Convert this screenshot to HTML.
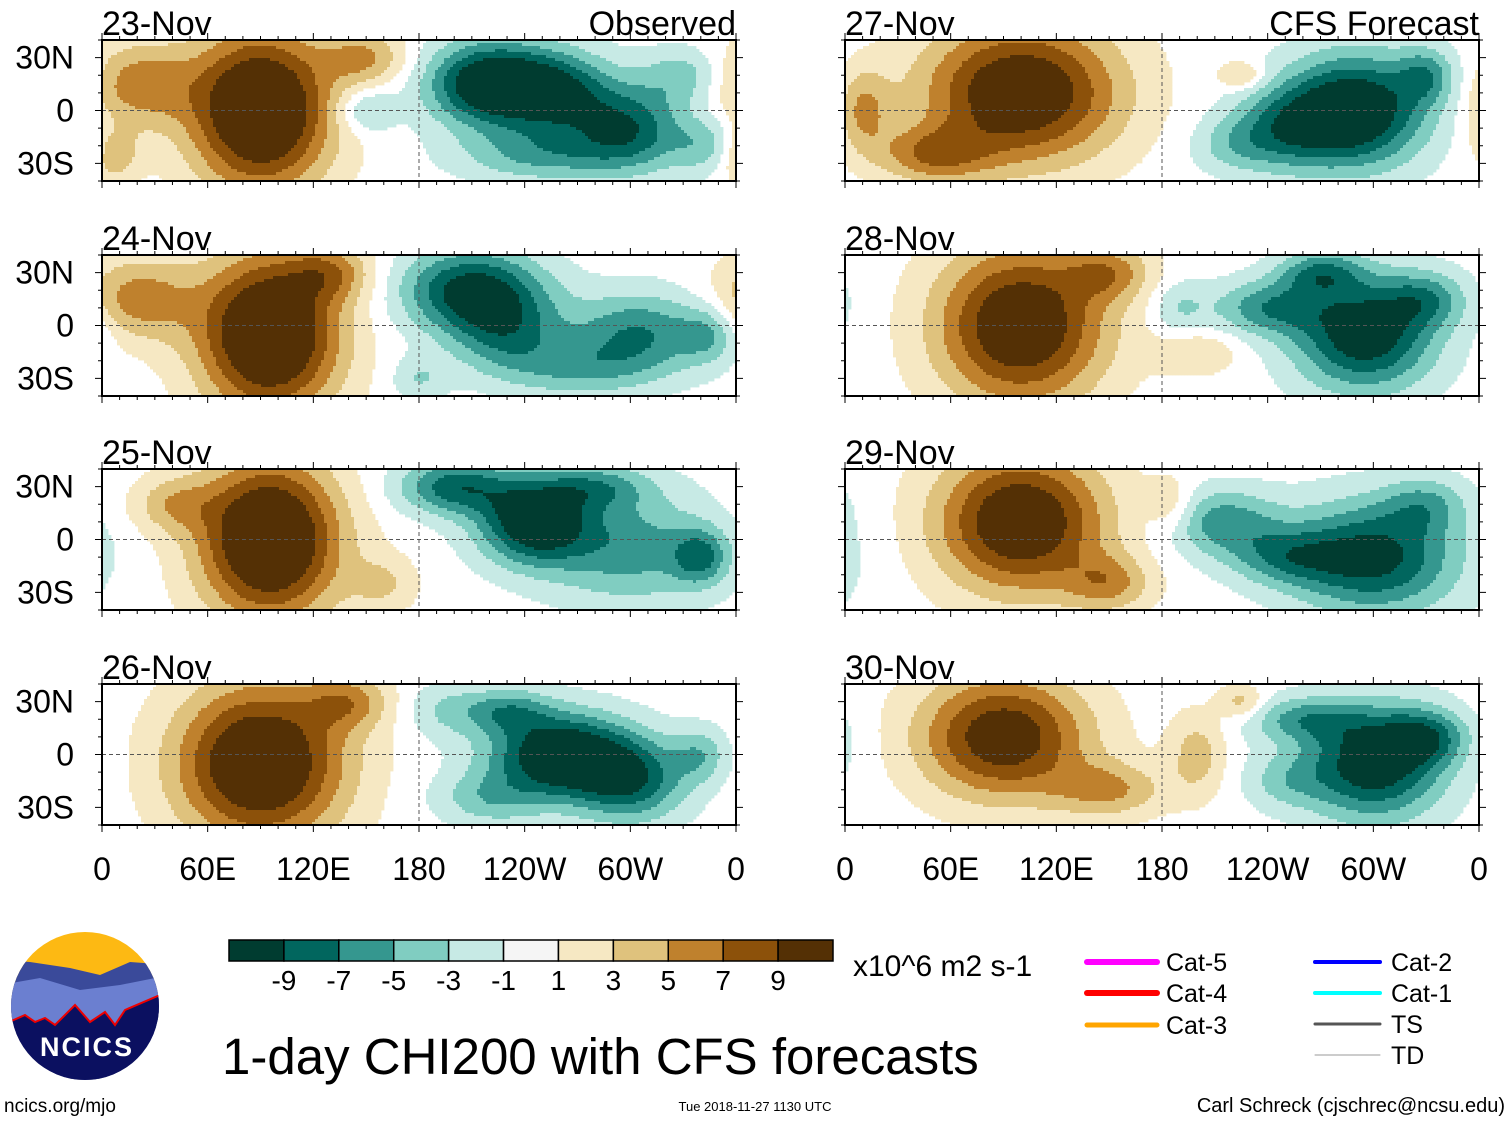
<!DOCTYPE html>
<html><head><meta charset="utf-8">
<style>
body{margin:0;background:#fff;width:1510px;height:1121px;overflow:hidden;font-family:"Liberation Sans",sans-serif;position:relative}
</style></head><body>
<svg id="svg" width="1510" height="1121" style="position:absolute;left:0;top:0"></svg>
<script>
const panelTitles=["23-Nov","24-Nov","25-Nov","26-Nov","27-Nov","28-Nov","29-Nov","30-Nov"];
const levels=[-9,-7,-5,-3,-1,1,3,5,7,9];
const colors=["#003c30","#01665e","#35978f","#80cdc1","#c7eae5","#f5f5f5","#f6e8c3","#dfc27d","#bf812d","#8c510a","#543005"];
const xTicks=[0,60,120,180,240,300,360];
const xTickLabels=["0","60E","120E","180","120W","60W","0"];
const yTicks=[30,0,-30];
const yTickLabels=["30N","0","30S"];
// blobs: [lon, lat, amplitude, sigmaLon, sigmaLat]
const blobs23=[[90,0,14,25,28],[20,15,6,20,15],[150,30,5,15,10],[5,-25,5,10,10],[220,15,-12,22,15],[260,10,-8,20,15],[300,-10,-8,20,15],[250,-25,-5,30,10],[150,0,-4,10,8],[330,20,-4,15,10],[345,-20,-4,12,10]];
const blobs24=[[95,-5,14,25,28],[20,15,6,20,15],[130,30,5,15,10],[210,20,-10,25,15],[230,-5,-6,20,15],[305,-5,-7,25,15],[180,-30,-3,10,8],[345,-5,-4,10,10],[270,-25,-4,25,10]];
const blobs25=[[95,0,14,25,28],[40,20,4,15,10],[200,30,-8,20,10],[245,10,-11,20,15],[300,-5,-6,30,20],[340,-10,-6,10,10],[160,-25,3,12,10],[280,30,-5,20,8]];
const blobs26=[[90,-5,13,30,28],[140,30,5,15,10],[260,0,-12,25,15],[300,-15,-8,20,15],[220,-25,-4,20,10],[340,0,-4,10,10],[195,25,-3,15,10],[230,25,-5,15,8]];
const blobs27=[[100,10,12,35,25],[50,-25,6,20,10],[10,0,5,10,15],[290,0,-12,25,20],[250,-10,-6,20,15],[330,20,-5,10,10],[225,20,4,8,5],[220,-20,-3,15,10]];
const blobs28=[[100,0,12,30,28],[150,30,5,15,10],[200,-15,3,15,8],[295,-5,-11,25,20],[240,10,-6,20,10],[330,15,-5,15,10],[270,30,-6,15,8],[190,10,-3,10,10]];
const blobs29=[[100,10,12,30,25],[150,-25,5,15,10],[300,-10,-10,30,20],[215,10,-6,20,12],[250,-10,-5,20,10],[185,20,3,8,10],[330,20,-4,15,10]];
const blobs30=[[90,10,11,30,22],[150,-20,5,20,10],[200,0,4,10,15],[300,-5,-11,25,20],[330,10,-6,15,10],[260,20,-5,20,8],[225,30,4,8,6],[250,-15,-3,15,10]];
const allBlobs=[blobs23,blobs24,blobs25,blobs26,blobs27,blobs28,blobs29,blobs30];

const NS="http://www.w3.org/2000/svg";
const svg=document.getElementById('svg');
function mk(tag,attrs,parent){const e=document.createElementNS(NS,tag);for(const k in attrs)e.setAttribute(k,attrs[k]);(parent||svg).appendChild(e);return e;}
const colX=[102,845], rowY=[40,255,469,684], PW=634, PH=141;
function xScale(px,lon){return px+lon/360*PW;}
function yScale(py,lat){return py+PH/2-lat/80*PH;}
function colorFor(v){let i=0;while(i<levels.length&&v>levels[i])i++;return colors[i];}
function field(b,lon,lat){let s=0;for(const q of b){let d=Math.abs(lon-q[0]);if(d>180)d=360-d;const e=lat-q[1];const sl=q[3]*1.12,sa=q[4]*1.12;s+=q[2]*Math.exp(-(d*d)/(2*sl*sl)-(e*e)/(2*sa*sa));}return s;}

for(let p=0;p<8;p++){
  const px=colX[Math.floor(p/4)], py=rowY[p%4];
  const g=mk('g',{});
  
  
  const step=3;
  for(let yy=0;yy<PH;yy+=step){
    for(let xx=0;xx<PW;xx+=step){
      const lon=xx/PW*360, lat=40-yy/PH*80;
      const c=colorFor(field(allBlobs[p],lon+step/PW*180,lat-step/PH*40));
      if(c==="#f5f5f5")continue;
      mk('rect',{x:px+xx,y:py+yy,width:Math.min(step+0.4,PW-xx),height:Math.min(step+0.4,PH-yy),fill:c},g);
    }
  }
  mk('line',{x1:px,x2:px+PW,y1:yScale(py,0),y2:yScale(py,0),stroke:'#555','stroke-dasharray':'4,3','stroke-width':1},g);
  mk('line',{x1:xScale(px,180),x2:xScale(px,180),y1:py,y2:py+PH,stroke:'#555','stroke-dasharray':'4,3','stroke-width':1},g);
  const fr=mk('rect',{x:px,y:py,width:PW,height:PH,fill:'none',stroke:'#000','stroke-width':2},g);
  
  
  for(let i=0;i<=36;i++){const x=xScale(px,i*10);const l=i%6==0?7:4;mk('line',{x1:x,x2:x,y1:py,y2:py-l,stroke:'#000'},g);mk('line',{x1:x,x2:x,y1:py+PH,y2:py+PH+l,stroke:'#000'},g);}
  for(let la=-40;la<=40;la+=10){const y=yScale(py,la);const l=la%30==0?7:4;mk('line',{x1:px,x2:px-l,y1:y,y2:y,stroke:'#000'},g);mk('line',{x1:px+PW,x2:px+PW+l,y1:y,y2:y,stroke:'#000'},g);}
  const tt=mk('text',{x:px,y:py-5,'font-size':34,'font-family':'Liberation Sans'},g);tt.textContent=panelTitles[p];
  
  if(p%4==0){const r=mk('text',{x:px+PW,y:py-5,'font-size':34,'text-anchor':'end','font-family':'Liberation Sans'},g);r.textContent=p==0?"Observed":"CFS Forecast";
    }
  if(p<4){yTicks.forEach((la,i)=>{const t=mk('text',{x:74,y:yScale(py,la)+11,'font-size':32,'text-anchor':'end','font-family':'Liberation Sans'},g);t.textContent=yTickLabels[i];
    });}
  if(p%4==3){xTicks.forEach((lo,i)=>{const t=mk('text',{x:xScale(px,lo),y:880,'font-size':32,'text-anchor':'middle','font-family':'Liberation Sans'},g);t.textContent=xTickLabels[i];
    });}
}
// colorbar
const cb=mk('g',{});
const cw=(833-229)/colors.length;
colors.forEach((c,i)=>mk('rect',{x:229+i*cw,y:940,width:cw,height:21,fill:c,stroke:'#000','stroke-width':1.5},cb));
levels.forEach((l,i)=>{const t=mk('text',{x:229+(i+1)*cw,y:990,'font-size':28,'text-anchor':'middle','font-family':'Liberation Sans'},cb);t.textContent=l;});
const un=mk('text',{x:853,y:976,'font-size':30,'font-family':'Liberation Sans'});un.textContent="x10^6 m2 s-1";

const ti=mk('text',{x:222,y:1074,'font-size':51,'font-family':'Liberation Sans'});ti.textContent="1-day CHI200 with CFS forecasts";

// legend
const leg=[["Cat-5","#ff00ff",1087,962,6],["Cat-4","#ff0000",1087,993,6],["Cat-3","#ffa500",1087,1025,5],["Cat-2","#0000ff",1315,962,4],["Cat-1","#00ffff",1315,993,4],["TS","#555",1315,1024,3],["TD","#999",1315,1055,1]];
leg.forEach(l=>{const g=mk('g',{});
  mk('line',{x1:l[2],x2:l[2]+(l[2]<1200?70:65),y1:l[3],y2:l[3],stroke:l[1],'stroke-width':l[4],'stroke-linecap':'round'},g);
  const t=mk('text',{x:l[2]+(l[2]<1200?79:76),y:l[3]+9,'font-size':25,'font-family':'Liberation Sans'},g);t.textContent=l[0];});
// logo
const lg=mk('g',{});
const cp=mk('clipPath',{id:'lc'},lg);mk('circle',{cx:85,cy:1006,r:74},cp);
const lgi=mk('g',{'clip-path':'url(#lc)'},lg);
mk('rect',{x:0,y:930,width:170,height:160,fill:'#fdb913'},lgi);
mk('path',{d:'M0 960 L30 962 L70 968 L100 975 L130 962 L170 965 L170 1100 L0 1100Z',fill:'#3a4a9a'},lgi);
mk('path',{d:'M0 985 L40 978 L80 990 L120 985 L170 975 L170 1100 L0 1100Z',fill:'#6b7fd0'},lgi);
mk('path',{d:'M0 1026 L25 1015 L35 1022 L45 1018 L55 1025 L75 1005 L90 1022 L105 1012 L115 1025 L125 1010 L160 995 L170 1000 L170 1100 L0 1100Z',fill:'#0b1060',stroke:'#e00','stroke-width':2},lgi);
const nt=mk('text',{x:87,y:1056,'font-size':27,'font-weight':'bold','text-anchor':'middle',fill:'#fff','font-family':'Liberation Sans','letter-spacing':2},lg);nt.textContent="NCICS";
const s1=mk('text',{x:4,y:1112,'font-size':19,'font-family':'Liberation Sans'});s1.textContent="ncics.org/mjo";

const s2=mk('text',{x:755,y:1111,'font-size':13,'text-anchor':'middle','font-family':'Liberation Sans'});s2.textContent="Tue 2018-11-27 1130 UTC";

const s3=mk('text',{x:1505,y:1112,'font-size':20,'text-anchor':'end','font-family':'Liberation Sans'});s3.textContent="Carl Schreck (cjschrec@ncsu.edu)";

</script>
</body></html>
